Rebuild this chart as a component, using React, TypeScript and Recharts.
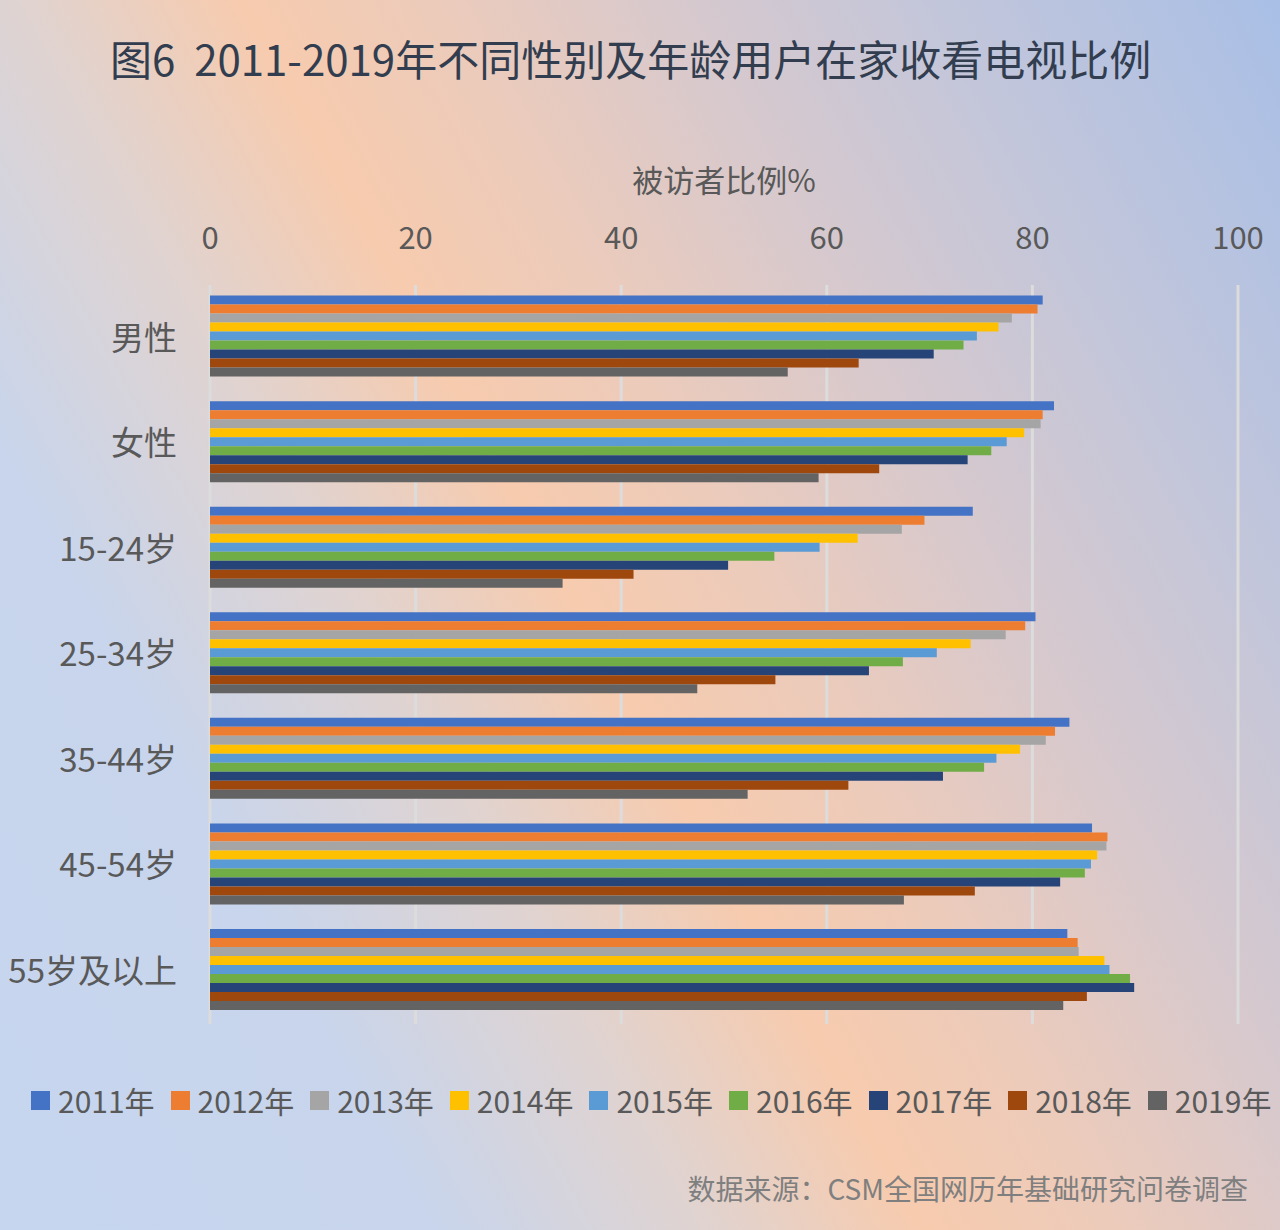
import React from 'react'
import { BarChart, Bar, XAxis, YAxis, CartesianGrid, Legend, Label } from 'recharts'

const categories = ['男性', '女性', '15-24岁', '25-34岁', '35-44岁', '45-54岁', '55岁及以上']
const years = ['2011年', '2012年', '2013年', '2014年', '2015年', '2016年', '2017年', '2018年', '2019年']
const xTicks = [0, 20, 40, 60, 80, 100]

const y2011 = [81.0, 82.1, 74.2, 80.3, 83.6, 85.8, 83.4]
const y2012 = [80.5, 81.0, 69.5, 79.3, 82.2, 87.3, 84.4]
const y2013 = [78.0, 80.8, 67.3, 77.4, 81.3, 87.2, 84.5]
const y2014 = [76.7, 79.2, 63.0, 74.0, 78.8, 86.3, 87.0]
const y2015 = [74.6, 77.5, 59.3, 70.7, 76.5, 85.7, 87.5]
const y2016 = [73.3, 76.0, 54.9, 67.4, 75.3, 85.1, 89.5]
const y2017 = [70.4, 73.7, 50.4, 64.1, 71.3, 82.7, 89.9]
const y2018 = [63.1, 65.1, 41.2, 55.0, 62.1, 74.4, 85.3]
const y2019 = [56.2, 59.2, 34.3, 47.4, 52.3, 67.5, 83.0]

const series = [y2011, y2012, y2013, y2014, y2015, y2016, y2017, y2018, y2019]
const COLORS = ['#4472c4', '#ed7d31', '#a5a5a5', '#ffc000', '#5b9bd5', '#70ad47', '#264478', '#9e480e', '#636363']

const FONT = '"Noto Sans CJK SC", "Noto Sans", sans-serif'

const data = categories.map((c, i) => {
  const row: Record<string, string | number> = { name: c }
  years.forEach((y, j) => { row[y] = series[j][i] })
  return row
})

// legend laid out on a fixed step like the original
const renderLegend = (props: any) => {
  const { payload } = props
  return (
    <div style={{ position: 'relative', height: 40 }}>
      {payload.map((p: any, i: number) => (
        <div key={p.value} style={{ position: 'absolute', left: 31 + i * 139.6, top: 0, display: 'flex', alignItems: 'center' }}>
          <span style={{ display: 'inline-block', width: 19, height: 19, background: p.color, marginRight: 8 }} />
          <span style={{ fontSize: 30, color: '#595959', fontFamily: FONT, lineHeight: '40px' }}>{p.value}</span>
        </div>
      ))}
    </div>
  )
}

export default function App() {
  return (
    <div style={{
      position: 'absolute', left: 0, top: 0, width: 1280, height: 1230, overflow: 'hidden',
      background: 'linear-gradient(61deg, #c6d6ef 0%, #c8d5ec 22%, #e0d3d0 36%, #f7cbae 47%, #eccbbb 57%, #d9c9cc 68%, #c3c6da 82%, #a9bfe6 100%)',
    }}>
      <div style={{ position: 'absolute', left: 110, top: 30, fontSize: 42, color: '#323e4f', fontFamily: FONT, whiteSpace: 'pre', lineHeight: '56px' }}>
        {'图6  2011-2019年不同性别及年龄用户在家收看电视比例'}
      </div>
      <BarChart
        width={1280}
        height={1230}
        data={data}
        layout="vertical"
        margin={{ top: 225, right: 42, bottom: 166, left: 10 }}
        barCategoryGap="10%"
        barGap={0}
      >
        <CartesianGrid horizontal={false} stroke="#dcdcdc" strokeWidth={3} />
        <XAxis
          type="number"
          orientation="top"
          domain={[0, 100]}
          ticks={xTicks}
          height={60}
          axisLine={false}
          tickLine={false}
          tickMargin={30}
          tick={{ fontSize: 31, fill: '#595959', fontFamily: FONT }}
        >
          <Label value="被访者比例%" position="top" offset={33} style={{ fontSize: 31, fill: '#595959', fontFamily: FONT }} />
        </XAxis>
        <YAxis
          type="category"
          dataKey="name"
          width={200}
          axisLine={false}
          tickLine={false}
          tickMargin={27}
          tick={{ fontSize: 33, fill: '#595959', fontFamily: FONT }}
        />
        <Legend verticalAlign="bottom" content={renderLegend} wrapperStyle={{ left: 0, top: 1080, width: 1280 }} />
        {years.map((y, j) => (
          <Bar key={y} dataKey={y} fill={COLORS[j]} isAnimationActive={false} />
        ))}
      </BarChart>
      <div style={{ position: 'absolute', right: 32, top: 1168, fontSize: 28, color: '#7f7f7f', fontFamily: FONT, lineHeight: '40px' }}>
        数据来源：CSM全国网历年基础研究问卷调查
      </div>
    </div>
  )
}
